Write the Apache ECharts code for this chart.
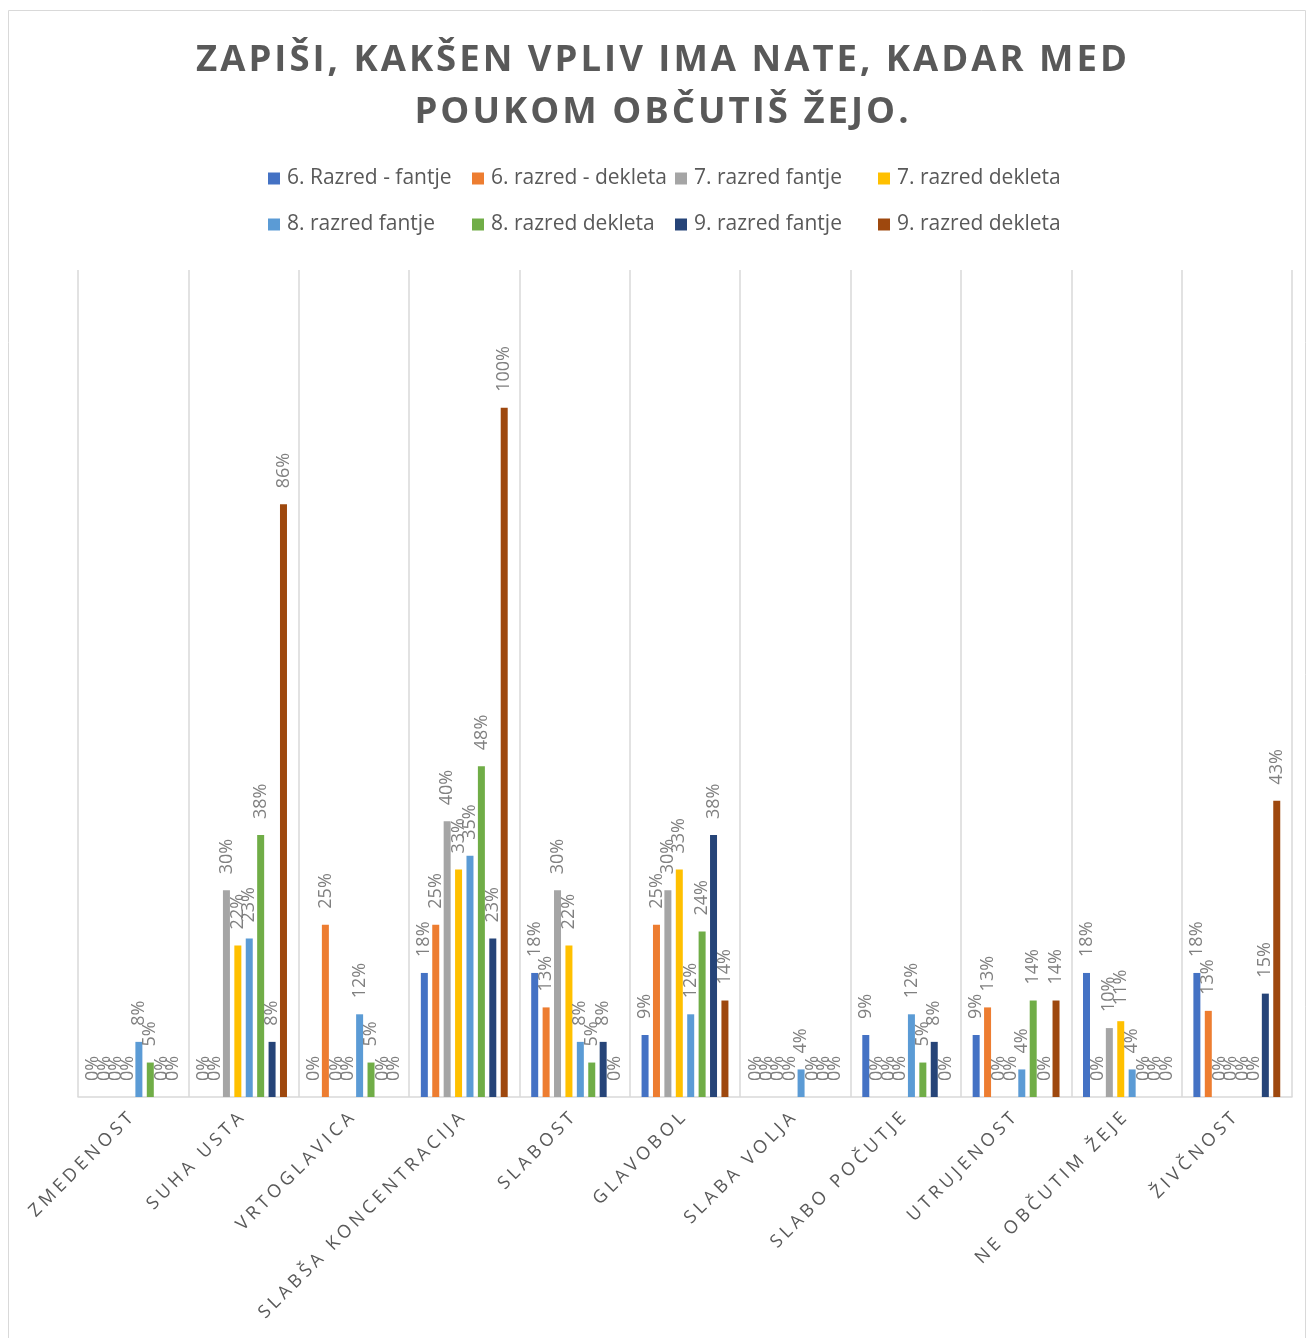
<!DOCTYPE html>
<html lang="sl">
<head>
  <meta charset="UTF-8">
  <title>Vpliv žeje med poukom</title>
  <script src="https://cdn.jsdelivr.net/npm/echarts@6/dist/echarts.min.js"></script>
  <style>
    body { margin: 0; background: #fff; }
  </style>
</head>
<body>

<div id="chart" style="width: 1313px; height: 1338px;"></div>

<script>
  // kategorije (os x)
  var categories = ['ZMEDENOST', 'SUHA USTA', 'VRTOGLAVICA', 'SLABŠA KONCENTRACIJA', 'SLABOST',
    'GLAVOBOL', 'SLABA VOLJA', 'SLABO POČUTJE', 'UTRUJENOST', 'NE OBČUTIM ŽEJE', 'ŽIVČNOST'];

  // deleži v %, odčitani s slike
  var razred6Fantje  = [0, 0, 0, 18, 18, 9, 0, 9, 9, 18, 18];
  var razred6Dekleta = [0, 0, 25, 25, 13, 25, 0, 0, 13, 0, 12.5];
  var razred7Fantje  = [0, 30, 0, 40, 30, 30, 0, 0, 0, 10, 0];
  var razred7Dekleta = [0, 22, 0, 33, 22, 33, 0, 0, 0, 11, 0];
  var razred8Fantje  = [8, 23, 12, 35, 8, 12, 4, 12, 4, 4, 0];
  var razred8Dekleta = [5, 38, 5, 48, 5, 24, 0, 5, 14, 0, 0];
  var razred9Fantje  = [0, 8, 0, 23, 8, 38, 0, 8, 0, 0, 15];
  var razred9Dekleta = [0, 86, 0, 100, 0, 14, 0, 0, 14, 0, 43];

  var seriesNames = ['6. Razred - fantje', '6. razred - dekleta', '7. razred fantje', '7. razred dekleta',
    '8. razred fantje', '8. razred dekleta', '9. razred fantje', '9. razred dekleta'];
  var seriesData = [razred6Fantje, razred6Dekleta, razred7Fantje, razred7Dekleta,
    razred8Fantje, razred8Dekleta, razred9Fantje, razred9Dekleta];
  var colors = ['#4472C4', '#ED7D31', '#A5A5A5', '#FFC000', '#5B9BD5', '#70AD47', '#264478', '#9E480E'];

  // razmik med črkami: družina "lsN" v seznamu pisav pomeni N px razmika, ostalo 0
  var origFillText = CanvasRenderingContext2D.prototype.fillText;
  CanvasRenderingContext2D.prototype.fillText = function (t, x, y, w) {
    if ('letterSpacing' in this) {
      var m = /ls(\d+)/.exec(this.font);
      var v = m ? m[1] + 'px' : '0px';
      this.letterSpacing = v === '0px' ? '1px' : '0px';
      this.letterSpacing = v;
    }
    return w === undefined ? origFillText.call(this, t, x, y) : origFillText.call(this, t, x, y, w);
  };

  var font = '"Open Sans", sans-serif';
  var chart = echarts.init(document.getElementById('chart'));

  var series = seriesNames.map(function (name, i) {
    return {
      name: name,
      type: 'bar',
      data: seriesData[i],
      barWidth: 7,
      barGap: '63%',
      itemStyle: { color: colors[i] },
      label: {
        show: true,
        position: 'top',
        rotate: 90,
        align: 'left',
        verticalAlign: 'middle',
        distance: 16,
        fontFamily: font,
        fontSize: 18,
        color: '#808080',
        formatter: function (p) { return Math.round(p.value) + '%'; }
      }
    };
  });

  // legenda v štirih stolpcih, dve vrstici
  var legendCols = [268, 472, 675, 878];
  var legends = legendCols.map(function (x, c) {
    return {
      data: [seriesNames[c], seriesNames[c + 4]],
      orient: 'vertical',
      left: x,
      top: 168,
      itemGap: 25,
      itemWidth: 12,
      itemHeight: 12,
      icon: 'rect',
      padding: 0,
      textStyle: { fontFamily: font, fontSize: 21, color: '#595959', padding: [0, 0, 0, 2] }
    };
  });

  var option = {
    color: colors,
    animation: false,
    title: {
      text: 'ZAPIŠI, KAKŠEN VPLIV IMA NATE, KADAR MED\nPOUKOM OBČUTIŠ ŽEJO.',
      left: 663,
      top: 35,
      padding: 0,
      textAlign: 'center',
      textStyle: {
        fontFamily: '"Open Sans", ls3, sans-serif',
        fontWeight: 'bold',
        fontSize: 36.5,
        lineHeight: 52,
        color: '#595959'
      }
    },
    legend: legends,
    graphic: [{
      type: 'rect',
      shape: { x: 8.5, y: 10.5, width: 1297, height: 1340 },
      style: { fill: 'none', stroke: '#d9d9d9', lineWidth: 1 },
      silent: true
    }],
    grid: { left: 78, right: 21, top: 270, bottom: 241 },
    xAxis: {
      type: 'category',
      data: categories,
      axisLine: { lineStyle: { color: '#d9d9d9', width: 1.5 } },
      axisTick: { show: false },
      splitLine: { show: true, lineStyle: { color: '#d9d9d9', width: 1.5 } },
      axisLabel: {
        interval: 0,
        rotate: 45,
        margin: 16,
        fontFamily: '"Open Sans", ls4, sans-serif',
        fontSize: 18,
        color: '#595959'
      }
    },
    yAxis: {
      type: 'value',
      min: 0,
      max: 120,
      show: false,
      splitLine: { show: false }
    },
    series: series
  };

  chart.setOption(option);
</script>

</body>
</html>
